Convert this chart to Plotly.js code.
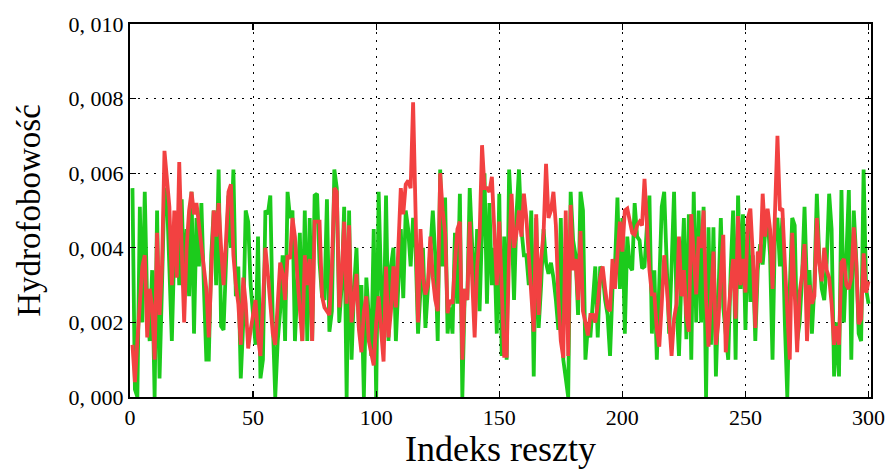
<!DOCTYPE html>
<html>
<head>
<meta charset="utf-8">
<script src="https://cdn.plot.ly/plotly-3.0.1.min.js"></script>
<style>html,body{margin:0;padding:0;background:#fff;}#chart{width:888px;height:469px;}</style>
</head>
<body>
<div id="chart"></div>
<script>
// residue hydrophobicity values (units of 0.001)
const greenValues = [
5.6,0.2,0.0,5.1,2.0,5.5,2.4,1.5,3.4,0.0,
5.0,0.5,3.0,5.6,5.4,3.0,1.5,4.0,4.8,3.0,
5.3,2.9,4.5,2.7,5.5,1.7,4.8,3.5,5.2,3.0,
1.0,1.0,3.8,5.0,3.0,6.1,1.9,1.8,3.5,5.4,
4.0,6.1,2.7,3.5,0.5,2.0,5.0,4.7,3.0,2.2,
1.4,4.3,0.5,1.0,5.0,4.9,5.4,2.0,0.0,1.5,
2.3,3.8,1.5,5.5,4.8,5.0,1.5,3.0,4.4,1.5,
5.0,1.5,4.8,1.5,5.4,5.45,3.6,2.7,2.6,5.3,
1.75,2.3,6.1,5.6,2.0,3.0,5.1,0.0,5.0,1.0,
2.9,4.0,1.8,3.0,0.0,3.2,2.0,1.1,4.5,0.0,
5.5,3.0,1.5,5.4,1.5,3.5,4.0,1.5,3.0,4.5,
2.65,5.0,4.5,3.5,4.8,4.0,1.7,3.0,4.0,1.85,
3.0,4.0,5.0,3.8,1.5,6.1,3.5,5.35,1.7,2.4,
1.7,4.4,2.5,5.45,0.0,2.9,2.6,5.6,4.0,2.5,
4.5,2.3,4.5,6.0,2.5,5.2,3.0,4.0,1.7,5.45,
1.1,4.3,1.0,6.1,4.7,2.6,4.9,6.1,4.5,3.8,
3.8,3.0,5.0,0.55,4.8,1.85,3.0,4.5,3.6,3.3,
3.6,3.2,2.6,1.8,4.8,1.0,0.5,0.0,5.5,4.2,
3.8,2.2,5.5,5.0,1.0,1.9,1.6,2.5,3.5,1.6,
3.5,3.3,2.6,2.2,1.1,2.9,3.5,5.35,2.9,4.8,
1.7,4.3,3.5,3.4,5.2,4.3,4.2,3.45,3.5,4.6,
5.4,1.7,3.4,1.0,2.9,5.1,5.5,3.8,1.7,3.5,
5.5,2.5,1.1,3.2,4.8,1.55,4.9,1.0,5.5,2.0,
5.0,2.0,5.1,0.0,4.55,1.4,4.55,0.55,2.9,4.8,
2.4,1.7,1.0,3.4,5.0,1.0,5.4,2.9,4.9,1.8,
4.8,2.55,3.8,1.5,3.4,4.1,3.55,4.4,4.8,3.8,
1.0,4.5,4.8,3.5,4.8,2.0,0.0,2.9,4.8,4.6,
1.5,2.0,3.2,5.1,2.9,3.4,1.7,3.0,5.45,3.7,
2.9,2.6,3.6,5.45,4.5,0.55,2.0,0.55,5.55,2.0,
3.8,5.55,1.0,5.0,3.7,1.7,1.5,6.1,2.9,2.5
];
const redValues = [
1.4,0.4,1.5,2.5,3.5,3.8,1.6,2.9,2.4,1.0,
4.4,2.2,3.5,6.6,5.7,5.1,3.0,5.0,3.2,6.3,
4.0,2.0,4.0,5.0,5.5,4.9,5.2,4.6,4.2,3.5,
2.9,1.6,3.5,5.0,4.3,5.2,4.0,3.0,4.2,5.5,
5.7,3.8,3.0,2.5,1.4,3.2,2.5,1.3,1.8,2.2,
2.6,1.6,1.1,2.5,4.0,3.3,2.6,1.7,1.4,2.5,
3.6,3.3,2.6,3.8,3.7,4.8,4.3,3.2,2.4,1.5,
3.8,3.0,3.7,1.5,4.7,4.7,4.7,2.7,2.4,2.3,
2.2,3.5,5.6,5.5,2.4,3.3,4.7,2.5,4.6,2.0,
2.8,3.3,1.8,1.2,2.3,2.7,1.5,1.1,0.85,2.0,
2.7,1.8,0.95,3.5,1.6,2.3,3.5,2.4,3.8,5.6,
4.9,5.7,5.8,5.6,7.9,4.8,2.0,4.5,3.2,2.75,
3.0,4.3,3.2,2.6,2.3,6.0,5.0,4.4,2.25,2.6,
2.5,3.6,4.5,4.7,1.0,2.9,2.6,4.7,3.4,1.6,
3.5,4.3,6.75,5.6,5.6,5.5,5.9,4.2,3.0,4.7,
2.5,1.1,1.1,3.9,5.45,4.0,4.4,5.0,4.3,5.45,
4.8,3.8,3.0,1.75,4.9,2.2,3.7,4.4,6.25,4.8,
5.0,5.5,4.6,2.65,1.5,1.05,5.0,1.1,5.15,3.4,
3.7,2.6,4.45,2.3,2.0,1.65,2.2,2.2,2.0,2.5,
3.2,3.5,2.9,2.4,2.3,3.7,2.9,3.9,4.7,3.9,
5.0,5.05,4.7,4.4,4.35,4.6,4.7,4.6,5.85,4.5,
3.4,2.75,2.75,1.8,1.35,2.5,3.8,3.0,2.1,1.1,
2.1,2.5,4.3,2.7,3.4,2.2,1.75,4.9,3.8,2.75,
4.3,4.0,5.0,2.6,1.35,2.9,3.9,1.4,2.0,3.3,
4.35,1.2,2.2,3.0,3.7,2.1,4.85,3.0,3.7,2.8,
4.8,5.05,3.8,1.85,3.9,3.6,5.45,4.3,5.05,4.5,
2.9,4.8,7.0,5.0,5.05,3.6,2.0,1.0,4.4,2.8,
1.2,2.8,3.3,4.1,1.5,3.0,2.5,2.7,4.8,3.6,
3.1,4.0,3.4,3.2,2.5,1.4,1.9,1.4,3.6,3.7,
3.0,2.9,3.2,4.55,3.6,1.95,2.1,3.85,2.8,3.1
];
const residueIndex = greenValues.map((_, i) => i + 1);
const yTickVals = [0, 0.002, 0.004, 0.006, 0.008, 0.010];
const yTickText = ["0, 000", "0, 002", "0, 004", "0, 006", "0, 008", "0, 010"];
const xTickVals = [0, 50, 100, 150, 200, 250, 300];
const xTitle = "Indeks reszty";
const yTitle = "Hydrofobowość";

const scale = v => v / 1000;
const serif = "Liberation Serif, DejaVu Serif, serif";

const traces = [
  {x: residueIndex, y: greenValues.map(scale), type: "scatter", mode: "lines",
   line: {color: "#1ccb1c", width: 3.8}, hoverinfo: "skip"},
  {x: residueIndex, y: redValues.map(scale), type: "scatter", mode: "lines",
   line: {color: "#f24141", width: 3.8}, hoverinfo: "skip"}
];

const axisCommon = {
  showline: true, linecolor: "#000", linewidth: 2, mirror: "ticks",
  ticks: "inside", ticklen: 6, tickwidth: 1.2, tickcolor: "#000",
  showgrid: true, gridcolor: "#000", gridwidth: 1, griddash: "2px,6px",
  zeroline: false, tickfont: {family: serif, size: 22, color: "#000"}
};

const layout = {
  width: 888, height: 469,
  margin: {l: 130, r: 17, t: 24, b: 72},
  paper_bgcolor: "#fff", plot_bgcolor: "#fff",
  showlegend: false,
  xaxis: Object.assign({}, axisCommon, {
    range: [0, 301], tickvals: xTickVals, ticktext: xTickVals.map(String),
    title: {text: xTitle, font: {family: serif, size: 36, color: "#000"}, standoff: 2}
  }),
  yaxis: Object.assign({}, axisCommon, {
    range: [0, 0.010], tickvals: yTickVals, ticktext: yTickText,
    title: {text: yTitle, font: {family: serif, size: 33, color: "#000"}, standoff: 18}
  })
};

Plotly.newPlot("chart", traces, layout, {staticPlot: true, displayModeBar: false});
</script>
</body>
</html>
